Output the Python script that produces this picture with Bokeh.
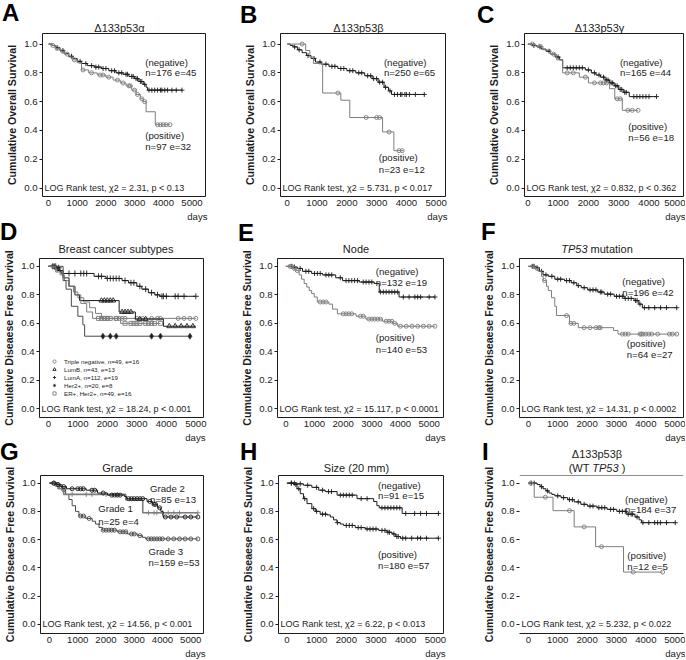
from bokeh.plotting import figure
from bokeh.layouts import column, row
from bokeh.models import (Label, FixedTicker, Range1d, Span, Div, Title,
                          PrintfTickFormatter, Legend, LegendItem)
from bokeh.embed import file_html
from bokeh.resources import INLINE

# ------------------------------------------------------------------ data
X_TICKS = [0, 1000, 2000, 3000, 4000, 5000]
Y_TICKS = [0.0, 0.2, 0.4, 0.6, 0.8, 1.0]

# A  Δ133p53α (overall survival)
A_NEG_T = [120, 250, 400, 550, 700, 850, 1000, 1150, 1350, 1600, 1850, 2100, 2350, 2600, 2800, 3000, 3150, 3300, 3400, 3450]
A_NEG_S = [0.99, 0.975, 0.955, 0.935, 0.915, 0.90, 0.88, 0.865, 0.85, 0.84, 0.83, 0.815, 0.80, 0.79, 0.775, 0.76, 0.74, 0.72, 0.70, 0.68]
A_NEG_END = 4650
A_NEG_C = [300, 500, 800, 1100, 1300, 1500, 1650, 1750, 1900, 2000, 2200, 2300, 2450, 2550, 2700, 2750, 2900, 2950,
           3050, 3100, 3200, 3250, 3350, 3500, 3600, 3700, 3800, 3900, 3950, 4050, 4150, 4300, 4450, 4650]
A_POS_T = [100, 250, 400, 550, 700, 850, 1000, 1150, 1400, 1700, 2000, 2250, 2500, 2700, 2900, 3050, 3200, 3300, 3400, 3720]
A_POS_S = [0.99, 0.97, 0.95, 0.93, 0.91, 0.89, 0.87, 0.82, 0.80, 0.785, 0.77, 0.75, 0.73, 0.71, 0.68, 0.65, 0.62, 0.60, 0.53, 0.44]
A_POS_END = 4230
A_POS_C = [150, 300, 500, 650, 900, 1200, 1500, 1800, 1900, 2100, 2400, 2600, 2800, 2850, 3000, 3100, 3250, 3350,
           3800, 3900, 4000, 4100, 4230]

# B  Δ133p53β (overall survival)
B_NEG_T = [100, 200, 350, 500, 650, 800, 950, 1150, 1400, 1700, 2000, 2300, 2600, 2850, 3050, 3250, 3400, 3500]
B_NEG_S = [0.99, 0.98, 0.96, 0.94, 0.92, 0.90, 0.875, 0.86, 0.845, 0.83, 0.815, 0.80, 0.78, 0.76, 0.735, 0.70, 0.675, 0.65]
B_NEG_END = 4600
B_NEG_C = [250, 400, 700, 900, 1100, 1300, 1500, 1600, 1800, 1900, 2100, 2200, 2400, 2500, 2700, 2800, 2900, 3000,
           3100, 3200, 3300, 3450, 3600, 3700, 3800, 3850, 3950, 4000, 4100, 4300, 4600]
B_POS_T = [620, 760, 880, 1190, 1800, 2100, 3200, 3580]
B_POS_S = [0.955, 0.91, 0.865, 0.66, 0.61, 0.49, 0.39, 0.26]
B_POS_END = 3900
B_POS_C = [500, 1700, 2650, 3000, 3100, 3420, 3750, 3860]

# C  Δ133p53γ (overall survival)
C_NEG_T = [150, 300, 450, 600, 750, 900, 1050, 1150, 1900, 2100, 2250, 2400, 2550, 2700, 2850, 3000, 3150, 3350]
C_NEG_S = [0.99, 0.98, 0.965, 0.95, 0.93, 0.91, 0.89, 0.835, 0.82, 0.80, 0.785, 0.77, 0.75, 0.73, 0.71, 0.685, 0.665, 0.635]
C_NEG_END = 4250
C_NEG_C = [200, 400, 700, 1000, 1300, 1400, 1500, 1600, 1700, 1800, 2000, 2200, 2350, 2500, 2600, 2650, 2750, 2800,
           2900, 2950, 3050, 3100, 3200, 3250, 3500, 3600, 3700, 3800, 3900, 4000, 4250]
C_POS_T = [250, 500, 750, 950, 1150, 1700, 2000, 2700, 2870, 3120]
C_POS_S = [0.985, 0.96, 0.93, 0.89, 0.80, 0.77, 0.73, 0.69, 0.62, 0.54]
C_POS_END = 3640
C_POS_C = [150, 400, 850, 1300, 1500, 1900, 2200, 2400, 2500, 2600, 2950, 3050, 3300, 3450, 3640]

# D  Breast cancer subtypes (disease free survival)
D_TN_T = [200, 400, 550, 700, 850, 1000, 1200, 1400, 1600, 1800]
D_TN_S = [0.98, 0.94, 0.90, 0.86, 0.82, 0.78, 0.75, 0.71, 0.67, 0.635]
D_TN_END = 5000
D_TN_C = [150, 300, 1900, 2000, 2300, 2400, 2500, 2600, 3000, 3200, 3500, 3700, 3800, 4400, 4600, 4800, 5000]
D_LB_T = [300, 500, 700, 900, 1060, 2400, 2950, 3900]
D_LB_S = [0.97, 0.92, 0.86, 0.80, 0.76, 0.68, 0.63, 0.58]
D_LB_END = 5000
D_LB_C = [1800, 1900, 2000, 2100, 2200, 2500, 2600, 2700, 2800, 3100, 3300, 4100, 4300, 4500, 4700, 4900]
D_LA_T = [280, 390, 440, 1550, 1950, 2500, 2720, 3000, 3170, 3390, 3610, 3780]
D_LA_S = [0.99, 0.965, 0.95, 0.93, 0.915, 0.90, 0.885, 0.86, 0.84, 0.815, 0.80, 0.79]
D_LA_END = 5000
D_LA_C = [150, 200, 250, 350, 700, 900, 1100, 1200, 1300, 1700, 1800, 2000, 2100, 2200, 2300, 2400, 2600, 2800,
          2900, 3100, 3300, 3500, 3700, 3850, 3900, 4000, 4300, 4400, 4600, 5000]
D_H2_T = [500, 600, 780, 1000, 1170, 1230]
D_H2_S = [0.90, 0.84, 0.72, 0.65, 0.59, 0.51]
D_H2_END = 4800
D_H2_C = [1850, 2100, 2300, 3500, 3800, 4800]
D_EH_T = [250, 500, 700, 900, 1100, 1300, 1500, 2450]
D_EH_S = [0.96, 0.92, 0.86, 0.80, 0.74, 0.68, 0.635, 0.60]
D_EH_END = 3800
D_EH_C = [1700, 1800, 1900, 2000, 2100, 2300, 2600, 2800, 2900, 3000, 3100, 3300, 3400, 3500, 3600, 3800]
D_LEGEND = ["Triple negative, n=49, e=16", "LumB, n=43, e=13", "LumA, n=112, e=19",
            "Her2+, n=20, e=8", "ER+, Her2+, n=49, e=16"]

# E  Node
E_NEG_T = [250, 400, 580, 900, 1280, 1740, 1980, 2560, 3080, 3260, 3950]
E_NEG_S = [0.995, 0.985, 0.965, 0.95, 0.94, 0.92, 0.90, 0.89, 0.88, 0.82, 0.785]
E_NEG_END = 5200
E_NEG_C = [200, 300, 500, 700, 800, 1000, 1100, 1200, 1400, 1500, 1600, 1900, 2100, 2200, 2300, 2400, 2500, 2700,
           2800, 2900, 3000, 3300, 3400, 3500, 3600, 3700, 3800, 3900, 4100, 4300, 4500, 4600, 4700, 5000, 5200]
E_POS_T = [250, 350, 465, 550, 640, 730, 815, 900, 990, 1100, 1500, 1630, 1800, 2450, 2790, 3370, 3720, 3900]
E_POS_S = [0.985, 0.97, 0.94, 0.91, 0.88, 0.855, 0.83, 0.81, 0.785, 0.75, 0.735, 0.70, 0.667, 0.65, 0.63, 0.615, 0.60, 0.58]
E_POS_END = 5200
E_POS_C = [150, 200, 300, 400, 1200, 1300, 1400, 2000, 2100, 2200, 2300, 2600, 2700, 2900, 3000, 3100, 3200, 3300,
           3500, 3600, 3700, 3800, 4000, 4200, 4400, 4600, 4800, 5000, 5200]

# F  TP53 mutation
F_NEG_T = [250, 380, 500, 680, 900, 1230, 1460, 1650, 1800, 2020, 2360, 2580, 2920, 3260, 3600, 3760, 3880]
F_NEG_S = [0.99, 0.965, 0.94, 0.93, 0.91, 0.90, 0.885, 0.865, 0.85, 0.835, 0.82, 0.805, 0.79, 0.775, 0.76, 0.735, 0.71]
F_NEG_END = 5050
F_NEG_C = [150, 200, 300, 450, 600, 800, 1000, 1100, 1300, 1400, 1550, 1700, 1900, 2100, 2200, 2300, 2450, 2500,
           2700, 2800, 3000, 3100, 3200, 3300, 3400, 3500, 3650, 3700, 3800, 3950, 4100, 4300, 4500, 4700, 5050]
F_POS_T = [220, 340, 450, 505, 620, 680, 790, 900, 960, 1400, 1700, 2900, 3050]
F_POS_S = [0.985, 0.965, 0.93, 0.90, 0.86, 0.83, 0.78, 0.72, 0.655, 0.60, 0.57, 0.55, 0.525]
F_POS_END = 5050
F_POS_C = [150, 300, 550, 1300, 1450, 1550, 1900, 2100, 2300, 2400, 2450, 3200, 3300, 3400, 3800, 3850, 3900, 4000,
           4100, 4200, 4400, 4800, 4900, 5050]

# G  Grade
G_G2_T = [250, 400, 600, 1300, 1700, 2050, 2650, 2730, 3450, 3640, 3820, 3940, 4020]
G_G2_S = [0.99, 0.975, 0.96, 0.95, 0.93, 0.915, 0.905, 0.89, 0.87, 0.85, 0.825, 0.80, 0.76]
G_G2_END = 5250
G_G2_C = [150, 300, 500, 800, 1000, 1100, 1200, 1500, 1600, 1900, 2200, 2300, 2400, 2500, 2800, 2900, 3000, 3100,
          3200, 3300, 3550, 3700, 3750, 3900, 4100, 4300, 4500, 4800, 5000, 5250]
G_G1_T = [300, 500, 2700, 3300]
G_G1_S = [0.96, 0.92, 0.88, 0.79]
G_G1_END = 5250
G_G1_C = [800, 1300, 1500, 2000, 2400, 3500, 3700, 3800, 4000, 4200, 4400, 4600, 5250]
G_G3_T = [200, 330, 450, 570, 685, 800, 920, 1040, 1280, 1510, 1630, 1750, 1870, 2400, 2750, 3110, 3290, 3400]
G_G3_S = [0.99, 0.977, 0.953, 0.92, 0.884, 0.84, 0.80, 0.767, 0.75, 0.73, 0.71, 0.686, 0.667, 0.655, 0.64, 0.628, 0.616, 0.605]
G_G3_END = 5250
G_G3_C = [150, 250, 400, 500, 1100, 1200, 1400, 1900, 2000, 2100, 2200, 2300, 2500, 2600, 2700, 2900, 3000, 3200,
          3500, 3600, 3700, 3800, 3900, 4000, 4200, 4400, 4600, 4800, 5000, 5250]

# H  Size (20 mm)
H_NEG_T = [350, 560, 840, 1070, 1290, 1690, 2360, 2920, 3030, 3110, 3880]
H_NEG_S = [0.995, 0.985, 0.97, 0.95, 0.94, 0.915, 0.89, 0.87, 0.84, 0.825, 0.785]
H_NEG_END = 5100
H_NEG_C = [150, 250, 450, 700, 1000, 1200, 1400, 1500, 1800, 1900, 2000, 2100, 2200, 2500, 2700, 3200, 3300, 3400,
           3500, 3600, 3700, 3800, 4000, 4300, 4500, 4700, 5100]
H_POS_T = [225, 340, 450, 560, 675, 840, 955, 1120, 1350, 1460, 1570, 1685, 1800, 1910, 2300, 2640, 3090, 3370, 3540, 3650, 3820]
H_POS_S = [0.99, 0.96, 0.925, 0.89, 0.855, 0.82, 0.80, 0.78, 0.775, 0.76, 0.74, 0.72, 0.71, 0.70, 0.685, 0.675, 0.665, 0.652, 0.64, 0.622, 0.61]
H_POS_END = 5100
H_POS_C = [150, 300, 400, 600, 900, 1000, 1200, 1300, 1700, 2000, 2100, 2200, 2400, 2500, 2700, 2800, 2900, 3000,
           3200, 3300, 3400, 3450, 3600, 3700, 3750, 3900, 4000, 4200, 4400, 4500, 4700, 5100]

# I  Δ133p53β (WT TP53)
I_NEG_T = [300, 400, 500, 600, 700, 800, 900, 1115, 1340, 1560, 1785, 2010, 2340, 2680, 3010, 3350, 3630, 3770, 3850]
I_NEG_S = [0.99, 0.975, 0.96, 0.945, 0.93, 0.92, 0.91, 0.897, 0.883, 0.867, 0.85, 0.837, 0.826, 0.814, 0.80, 0.78, 0.76, 0.74, 0.72]
I_NEG_END = 5000
I_NEG_C = [100, 200, 450, 650, 1000, 1200, 1400, 1500, 1700, 1900, 2100, 2200, 2400, 2500, 2600, 2800, 2900, 3100,
           3200, 3300, 3400, 3500, 3550, 3700, 3900, 4100, 4300, 4400, 4500, 4700, 5000]
I_POS_T = [200, 840, 1560, 2290, 3240]
I_POS_S = [0.90, 0.805, 0.69, 0.55, 0.37]
I_POS_END = 4570
I_POS_C = [80, 580, 1400, 1900, 2490, 3570, 4570]

LOGRANK = {
    "A": "LOG Rank test, χ2 = 2.31, p < 0.13",
    "B": "LOG Rank test, χ2 = 5.731, p < 0.017",
    "C": "LOG Rank test, χ2 = 0.832, p < 0.362",
    "D": "LOG Rank test, χ2 = 18.24, p < 0.001",
    "E": "LOG Rank test, χ2 = 15.117, p < 0.0001",
    "F": "LOG Rank test, χ2 = 14.31, p < 0.0002",
    "G": "LOG Rank test, χ2 = 14.56, p < 0.001",
    "H": "LOG Rank test, χ2 = 6.22, p < 0.013",
    "I": "LOG Rank test, χ2 = 5.232, p < 0.022",
}
TITLES = {
    "A": ["Δ133p53α"], "B": ["Δ133p53β"], "C": ["Δ133p53γ"],
    "D": ["Breast cancer subtypes"], "E": ["Node"], "F": ["<i>TP53</i> mutation"],
    "G": ["Grade"], "H": ["Size (20 mm)"], "I": ["Δ133p53β", "(WT <i>TP53</i> )"],
}
YLAB_OS = "Cumulative Overall Survival"
YLAB_DFS = "Cumulative Diseaese Free Survival"

# ------------------------------------------------------------------ layout / style
FONT = "Liberation Sans"
BLK = "#1c1c1c"
GRY = "#7d7d7d"
DGR = "#4a4a4a"
FS_TICK = "9.6px"
FS_TXT = "9.6px"
FS_LOG = "9px"
TITLE_PX = 11.0
LETTER_PX = 24.0
OVERLAY_H = 1

COLW = [225, 230, 230]
ROWH = [222, 220, 216]
TOP = [32, 35, 32]
BOTTOM = [27, 26, 26]
LEFT = {"A": 42, "B": 55, "C": 69, "D": 37, "E": 52, "F": 64, "G": 40, "H": 53, "I": 64}
RIGHT = {"A": 20, "B": 10, "C": 2, "D": 22, "E": 12, "F": 2, "G": 22, "H": 12, "I": 2}
XR = {"A": (-210, 5470), "B": (-225, 5312), "C": (-110, 5140), "D": (-300, 5260), "E": (-290, 5500),
      "F": (-300, 5280), "G": (-320, 5450), "H": (-283, 5272), "I": (-300, 5280)}
YR = [(-0.058, 1.073), (-0.06, 1.055), (-0.065, 1.054)]
LETTER_POS = {"A": (2, 20), "B": (15, 22), "C": (22, 22), "D": (0, 17), "E": (13, 18),
              "F": (26, 17), "G": (0, 17), "H": (15, 17), "I": (27, 17)}
TITLE_Y = {"A": [27], "B": [27], "C": [27], "D": [26], "E": [26], "F": [26],
           "G": [25], "H": [25], "I": [11, 25]}
GRID = [["A", "B", "C"], ["D", "E", "F"], ["G", "H", "I"]]


def surv_at(t, times, surv):
    s = 1.0
    for ti, si in zip(times, surv):
        if ti <= t:
            s = si
    return s


GEOM = {}


def make_fig(key, ci, ri, ylab, box=True):
    W, H = COLW[ci], ROWH[ri]
    l, r, t, b = LEFT[key], RIGHT[key], TOP[ri], BOTTOM[ri]
    xr, yr = XR[key], YR[ri]
    p = figure(width=W, height=H, x_range=Range1d(*xr), y_range=Range1d(*yr),
               output_backend="svg", toolbar_location=None, tools="",
               min_border_left=l, min_border_right=r, min_border_top=t, min_border_bottom=b)
    p.xgrid.visible = False
    p.ygrid.visible = False
    p.outline_line_color = BLK if box else None
    p.outline_line_width = 1
    p.background_fill_color = "white"
    p.border_fill_color = "white"
    p.border_fill_alpha = 0.0
    xa, ya = p.xaxis[0], p.yaxis[0]
    xa.ticker = FixedTicker(ticks=X_TICKS)
    ya.ticker = FixedTicker(ticks=Y_TICKS)
    ya.formatter = PrintfTickFormatter(format="%.1f")
    for ax in (xa, ya):
        ax.major_label_text_font = FONT
        ax.major_label_text_font_size = FS_TICK
        ax.major_label_text_color = BLK
        ax.minor_tick_line_color = None
        ax.major_tick_in = 0
    xa.axis_line_color = None if box else BLK
    xa.major_tick_line_color = None
    xa.major_tick_out = 0
    xa.major_label_standoff = 3
    ya.axis_line_color = None
    ya.major_tick_line_color = BLK
    ya.major_tick_out = 3
    ya.major_label_standoff = 2
    ya.axis_label = ylab
    ya.axis_label_text_font = FONT
    ya.axis_label_text_font_size = "10.6px"
    ya.axis_label_text_font_style = "bold"
    ya.axis_label_text_color = BLK
    ya.axis_label_standoff = 3
    days = Title(text="days", align="right", offset=-2, standoff=0, text_font=FONT,
                 text_font_size=FS_TXT, text_font_style="normal", text_color=BLK)
    p.add_layout(days, "below")
    p.add_layout(Label(x=xr[0], y=0.0, x_offset=2, text=LOGRANK[key], text_font=FONT,
                       text_font_size=FS_LOG, text_baseline="middle", text_color=BLK))
    GEOM[key] = dict(x=sum(COLW[:ci]), y=OVERLAY_H + sum(ROWH[:ri]), fl=l, fw=W - l - r)
    return p


def txt(p, x, y, s):
    p.add_layout(Label(x=x, y=y, text=s, text_font=FONT, text_font_size=FS_TXT, text_align="left",
                       text_baseline="middle", text_color=BLK))


def two_labels(p, x, ys, lines):
    for yy, s in zip(ys, lines):
        txt(p, x, yy, s)


def km(p, T, Sv, end, cens, color, marker="cross", msize=5, fill=None, lw=1.0):
    xs = [0] + list(T) + [end]
    ys = [1.0] + list(Sv) + [Sv[-1]]
    p.step(xs, ys, mode="after", line_color=color, line_width=lw)
    cy = [surv_at(c, T, Sv) for c in cens]
    return p.scatter(cens, cy, marker=marker, size=msize, line_color=color,
                     fill_color=fill if fill else "white", fill_alpha=1.0 if fill else 0.0,
                     line_width=0.9)


# ------------------------------------------------------------------ panels
pA = make_fig("A", 0, 0, YLAB_OS)
km(pA, A_NEG_T, A_NEG_S, A_NEG_END, A_NEG_C, BLK)
km(pA, A_POS_T, A_POS_S, A_POS_END, A_POS_C, GRY, "circle", 4)
two_labels(pA, 3370, [0.872, 0.80], ["(negative)", "n=176 e=45"])
two_labels(pA, 3370, [0.367, 0.29], ["(positive)", "n=97 e=32"])

pB = make_fig("B", 1, 0, YLAB_OS)
km(pB, B_NEG_T, B_NEG_S, B_NEG_END, B_NEG_C, BLK)
km(pB, B_POS_T, B_POS_S, B_POS_END, B_POS_C, GRY, "circle", 4)
two_labels(pB, 3245, [0.873, 0.80], ["(negative)", "n=250 e=65"])
two_labels(pB, 3075, [0.21, 0.127], ["(positive)", "n=23 e=12"])

pC = make_fig("C", 2, 0, YLAB_OS)
km(pC, C_NEG_T, C_NEG_S, C_NEG_END, C_NEG_C, BLK)
km(pC, C_POS_T, C_POS_S, C_POS_END, C_POS_C, GRY, "circle", 4)
two_labels(pC, 3040, [0.872, 0.80], ["(negative)", "n=165 e=44"])
two_labels(pC, 3315, [0.426, 0.35], ["(positive)", "n=56 e=18"])

pD = make_fig("D", 0, 1, YLAB_DFS)
rTN = km(pD, D_TN_T, D_TN_S, D_TN_END, D_TN_C, GRY, "circle", 4)
rLB = km(pD, D_LB_T, D_LB_S, D_LB_END, D_LB_C, BLK, "triangle", 5)
rLA = km(pD, D_LA_T, D_LA_S, D_LA_END, D_LA_C, BLK, "cross", 6)
rH2 = km(pD, D_H2_T, D_H2_S, D_H2_END, D_H2_C, DGR, "diamond", 6, fill=BLK)
rEH = km(pD, D_EH_T, D_EH_S, D_EH_END, D_EH_C, GRY, "square", 4)
leg = Legend(items=[LegendItem(label=s, renderers=[r]) for s, r in
                    zip(D_LEGEND, [rTN, rLB, rLA, rH2, rEH])],
             location=(10, 20), padding=0, spacing=0, margin=0,
             glyph_width=10, glyph_height=8, label_height=8, label_standoff=5,
             label_text_font=FONT, label_text_font_size="6.2px", label_text_color=BLK,
             border_line_color=None, background_fill_alpha=0.0)
pD.add_layout(leg)

pE = make_fig("E", 1, 1, YLAB_DFS)
km(pE, E_NEG_T, E_NEG_S, E_NEG_END, E_NEG_C, BLK)
km(pE, E_POS_T, E_POS_S, E_POS_END, E_POS_C, GRY, "circle", 4)
two_labels(pE, 3140, [0.967, 0.89], ["(negative)", "n=132 e=19"])
two_labels(pE, 3140, [0.50, 0.42], ["(positive)", "n=140 e=53"])

pF = make_fig("F", 2, 1, YLAB_DFS)
km(pF, F_NEG_T, F_NEG_S, F_NEG_END, F_NEG_C, BLK)
km(pF, F_POS_T, F_POS_S, F_POS_END, F_POS_C, GRY, "circle", 4)
two_labels(pF, 3200, [0.897, 0.82], ["(negative)", "n=196 e=42"])
two_labels(pF, 3350, [0.46, 0.384], ["(positive)", "n=64 e=27"])

pG = make_fig("G", 0, 2, YLAB_DFS)
km(pG, G_G3_T, G_G3_S, G_G3_END, G_G3_C, DGR, "circle", 4)
km(pG, G_G1_T, G_G1_S, G_G1_END, G_G1_C, GRY, "cross", 5, lw=1.6)
km(pG, G_G2_T, G_G2_S, G_G2_END, G_G2_C, BLK, "circle", 4)
two_labels(pG, 3560, [0.96, 0.884], ["Grade 2", "n=85 e=13"])
two_labels(pG, 1725, [0.82, 0.73], ["Grade 1", "n=25 e=4"])
two_labels(pG, 3500, [0.516, 0.437], ["Grade 3", "n=159 e=53"])

pH = make_fig("H", 1, 2, YLAB_DFS)
km(pH, H_NEG_T, H_NEG_S, H_NEG_END, H_NEG_C, BLK)
km(pH, H_POS_T, H_POS_S, H_POS_END, H_POS_C, BLK, "cross", 5)
two_labels(pH, 3070, [0.984, 0.91], ["(negative)", "n=91 e=15"])
two_labels(pH, 3070, [0.494, 0.417], ["(positive)", "n=180 e=57"])

pI = make_fig("I", 2, 2, YLAB_DFS, box=False)
pI.add_layout(Span(location=YR[2][1], dimension="width", line_color=BLK, line_width=1))
km(pI, I_NEG_T, I_NEG_S, I_NEG_END, I_NEG_C, BLK)
km(pI, I_POS_T, I_POS_S, I_POS_END, I_POS_C, GRY, "circle", 4)
two_labels(pI, 3290, [0.883, 0.81], ["(negative)", "n=184 e=37"])
two_labels(pI, 3370, [0.49, 0.408], ["(positive)", "n=12 e=5"])

# ------------------------------------------------------------------ panel letters and titles (HTML overlay)
TOTAL_W = sum(COLW)
parts = ['<div style="position:absolute;top:0px;left:0px;width:%dpx;height:0px;overflow:visible;z-index:10;'
         'font-family:\'Liberation Sans\';color:#1c1c1c;pointer-events:none;">' % TOTAL_W]
for ri, keys in enumerate(GRID):
    for key in keys:
        g = GEOM[key]
        lx, lb = LETTER_POS[key]
        ltop = max(0.0, g["y"] + lb - 0.8465 * LETTER_PX)
        parts.append('<div style="position:absolute;left:%.1fpx;top:%.1fpx;font-size:%.1fpx;'
                     'font-weight:bold;line-height:1;color:#000;">%s</div>'
                     % (g["x"] + lx, ltop, LETTER_PX, key))
        for yref, html in zip(TITLE_Y[key], TITLES[key]):
            top = g["y"] + yref - 0.5 * TITLE_PX
            parts.append('<div style="position:absolute;left:%dpx;width:%dpx;top:%.1fpx;text-align:center;'
                         'font-size:%.1fpx;line-height:1;white-space:nowrap;">%s</div>'
                         % (g["x"] + g["fl"] - 4, g["fw"], top, TITLE_PX, html))
parts.append('</div>')
overlay = Div(text="".join(parts), width=TOTAL_W, height=OVERLAY_H, margin=0)

grid = column(row(pA, pB, pC, spacing=0), row(pD, pE, pF, spacing=0), row(pG, pH, pI, spacing=0),
              spacing=0)
layout = column(overlay, grid, spacing=0)

with open("out.html", "w") as f:
    f.write(file_html(layout, INLINE))
